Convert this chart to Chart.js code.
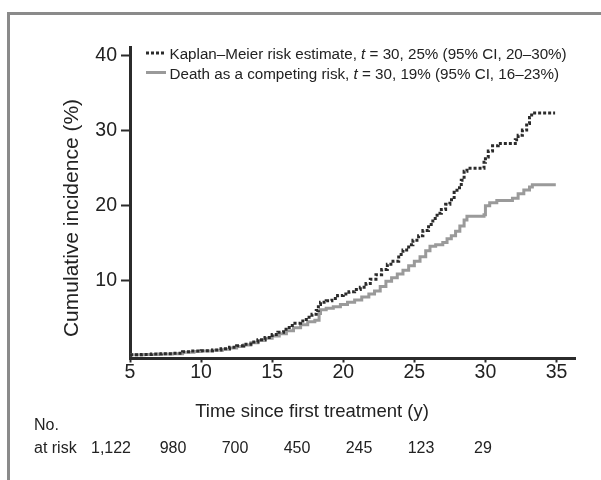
<!DOCTYPE html>
<html>
<head>
<meta charset="utf-8">
<script src="https://cdn.jsdelivr.net/npm/chart.js@4.4.1/dist/chart.umd.min.js"></script>
<style>
  html, body { margin: 0; padding: 0; background: #fff; }
  #wrap { position: relative; width: 601px; height: 480px; overflow: hidden; }
  #frame { position: absolute; left: 7px; top: 12px; width: 640px; height: 520px;
           border-left: 3px solid #8a8a8a; border-top: 3px solid #8a8a8a; }
  canvas { position: absolute; left: 0; top: 0; }
</style>
</head>
<body>
<div id="wrap">
  <div id="frame"></div>
  <canvas id="chart" width="601" height="480"></canvas>
</div>
<script>
// Kaplan–Meier (1 - S) en %, tiempos en años
const kmTimes = [5.0, 5.8, 6.5, 7.2, 8.0, 8.7, 9.3, 10.0, 10.8, 11.4, 12.0, 12.5, 13.0, 13.5, 14.0, 14.5,
  15.0, 15.4, 15.8, 16.2, 16.6, 17.0, 17.4, 17.8, 18.1, 18.25, 18.4, 18.8, 19.2, 19.6, 20.0, 20.4,
  20.8, 21.2, 21.6, 21.9, 22.3, 22.7, 23.1, 23.5, 23.9, 24.2, 24.6, 24.9, 25.3, 25.6, 26.0, 26.3,
  26.6, 26.9, 27.2, 27.5, 27.8, 28.0, 28.3, 28.5, 28.7, 29.9, 30.0, 30.2, 30.5, 30.9, 32.1, 32.3,
  32.6, 32.9, 33.1, 33.25, 34.9];
const kmRisk = [0.1, 0.15, 0.2, 0.25, 0.3, 0.5, 0.6, 0.65, 0.75, 0.9, 1.1, 1.3, 1.5, 1.8, 2.1, 2.4,
  2.8, 3.1, 3.5, 4.0, 4.3, 4.6, 5.1, 5.5, 6.0, 6.8, 7.1, 7.3, 7.6, 8.0, 8.2, 8.5,
  8.8, 9.1, 9.6, 10.2, 10.8, 11.5, 12.2, 12.6, 13.5, 14.1, 14.8, 15.4, 16.0, 16.7, 17.5, 18.3,
  19.0, 19.5, 20.2, 20.8, 21.8, 22.4, 23.4, 24.6, 25.0, 25.8, 26.5, 27.3, 28.0, 28.3, 28.8, 29.4,
  30.1, 31.0, 31.8, 32.4, 32.4];

// Incidencia acumulada con muerte como riesgo competitivo
const crTimes = [5.0, 6.0, 7.0, 8.0, 8.7, 9.5, 10.0, 10.8, 11.5, 12.0, 12.5, 13.0, 13.5, 14.0, 14.5,
  15.0, 15.5, 16.0, 16.5, 17.0, 17.5, 18.0, 18.3, 18.4, 18.8, 19.3, 19.8, 20.3, 20.8, 21.3, 21.8,
  22.2, 22.6, 23.0, 23.4, 23.8, 24.2, 24.6, 25.0, 25.4, 25.8, 26.1, 26.5, 27.0, 27.3, 27.6, 27.9,
  28.2, 28.5, 28.7, 29.9, 30.0, 30.3, 30.8, 31.9, 32.3, 32.7, 33.1, 33.3, 34.95];
const crRisk = [0.1, 0.15, 0.2, 0.25, 0.45, 0.55, 0.6, 0.7, 0.85, 1.0, 1.2, 1.4, 1.7, 2.0, 2.3,
  2.6, 2.9, 3.3, 3.7, 4.1, 4.5, 4.7, 5.6, 6.1, 6.3, 6.5, 6.8, 7.1, 7.4, 7.8, 8.2,
  8.6, 9.2, 9.9, 10.4, 10.9, 11.4, 12.0, 12.6, 13.2, 14.0, 14.6, 14.8, 15.1, 15.6, 16.0, 16.6,
  17.3, 18.1, 18.6, 18.8, 20.0, 20.4, 20.7, 21.0, 21.6, 22.1, 22.5, 22.8, 22.8];

const xTicks = [5, 10, 15, 20, 25, 30, 35];
const yTicks = [10, 20, 30, 40];
const atRisk = ["1,122", "980", "700", "450", "245", "123", "29"];

const FONT = "'Liberation Sans', Arial, Helvetica, sans-serif";
const INK = "#222";
const KM_COLOR = "#2b2b2b";
const CR_COLOR = "#9a9a9a";

function toPoints(times, vals) {
    return times.map((t, i) => ({ x: t, y: vals[i] }));
}

// Dibuja una línea de texto con tramos en cursiva
function drawRich(ctx, parts, x, y, size) {
    let cx = x;
    parts.forEach(p => {
        ctx.font = (p.italic ? "italic " : "") + size + "px " + FONT;
        ctx.fillText(p.text, cx, y);
        cx += ctx.measureText(p.text).width;
    });
}

const extras = {
    id: "extras",
    afterDraw(chart) {
        const ctx = chart.ctx;
        ctx.save();
        ctx.fillStyle = INK;

        // Títulos de ejes
        ctx.textAlign = "center";
        ctx.textBaseline = "alphabetic";
        ctx.font = "18.5px " + FONT;
        ctx.fillText("Time since first treatment (y)", 312, 417);
        ctx.save();
        ctx.translate(78, 218);
        ctx.rotate(-Math.PI / 2);
        ctx.font = "21px " + FONT;
        ctx.fillText("Cumulative incidence (%)", 0, 0);
        ctx.restore();

        // Leyenda
        ctx.textAlign = "left";
        ctx.lineWidth = 3;
        ctx.strokeStyle = KM_COLOR;
        ctx.setLineDash([3, 2]);
        ctx.beginPath(); ctx.moveTo(146, 53); ctx.lineTo(166, 53); ctx.stroke();
        ctx.setLineDash([]);
        ctx.strokeStyle = CR_COLOR;
        ctx.beginPath(); ctx.moveTo(146, 72.5); ctx.lineTo(166, 72.5); ctx.stroke();
        drawRich(ctx, [
            { text: "Kaplan\u2013Meier risk estimate, " },
            { text: "t", italic: true },
            { text: " = 30, 25% (95% CI, 20\u201330%)" }
        ], 169.5, 58.5, 15.2);
        drawRich(ctx, [
            { text: "Death as a competing risk, " },
            { text: "t", italic: true },
            { text: " = 30, 19% (95% CI, 16\u201323%)" }
        ], 169.5, 78.5, 15.2);

        // Tabla de pacientes en riesgo
        ctx.font = "16px " + FONT;
        ctx.fillText("No.", 34, 430);
        ctx.fillText("at risk", 34, 453);
        ctx.textAlign = "center";
        atRisk.forEach((n, i) => {
            ctx.fillText(n, 111 + i * 62, 453);
        });
        ctx.restore();
    }
};

new Chart(document.getElementById("chart").getContext("2d"), {
    type: "line",
    data: {
        datasets: [
            {
                label: "Kaplan–Meier risk estimate",
                data: toPoints(kmTimes, kmRisk),
                borderColor: KM_COLOR,
                borderWidth: 3,
                borderDash: [3, 2],
                stepped: true,
                pointRadius: 0,
                fill: false
            },
            {
                label: "Death as a competing risk",
                data: toPoints(crTimes, crRisk),
                borderColor: CR_COLOR,
                borderWidth: 3,
                stepped: true,
                pointRadius: 0,
                fill: false
            }
        ]
    },
    options: {
        responsive: false,
        animation: false,
        devicePixelRatio: 1,
        layout: { padding: { top: 47, right: 26, left: 0, bottom: 0 } },
        plugins: {
            legend: { display: false },
            tooltip: { enabled: false }
        },
        scales: {
            x: {
                type: "linear",
                min: 5,
                max: 36.3,
                afterBuildTicks: s => { s.ticks = xTicks.map(v => ({ value: v })); },
                afterFit: s => { s.height = 121.5; },
                ticks: { font: { family: FONT, size: 19.5 }, color: INK, padding: -2, maxRotation: 0 },
                grid: { drawOnChartArea: false, drawTicks: true, tickLength: 4, tickWidth: 2, tickColor: KM_COLOR },
                border: { display: true, width: 3, color: KM_COLOR }
            },
            y: {
                min: -0.4,
                max: 41.2,
                afterBuildTicks: s => { s.ticks = yTicks.map(v => ({ value: v })); },
                afterFit: s => { s.width = 130; },
                ticks: { font: { family: FONT, size: 19.5 }, color: INK, padding: 4 },
                grid: { drawOnChartArea: false, drawTicks: true, tickLength: 9, tickWidth: 2, tickColor: KM_COLOR },
                border: { display: true, width: 3, color: KM_COLOR }
            }
        }
    },
    plugins: [extras]
});
</script>
</body>
</html>
